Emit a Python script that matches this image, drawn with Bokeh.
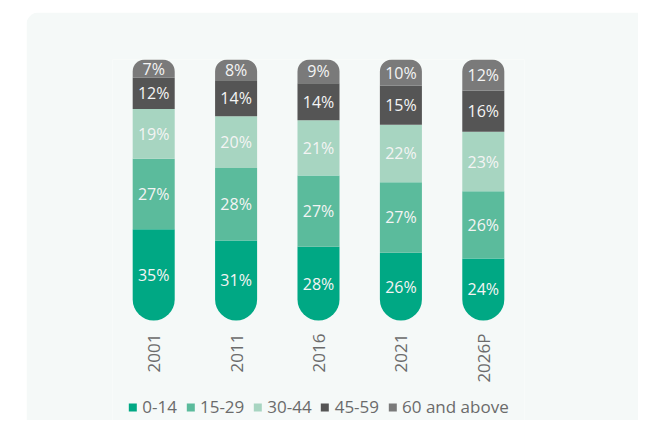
import math
import numpy as np
from bokeh.plotting import figure
from bokeh.models import ColumnDataSource, Range1d, Legend, LegendItem
from bokeh.core.properties import value
from bokeh.embed import file_html
from bokeh.resources import INLINE

years = ["2001", "2011", "2016", "2021", "2026P"]
groups = ["0-14", "15-29", "30-44", "45-59", "60 and above"]
age_0_14 = [35, 31, 28, 26, 24]
age_15_29 = [27, 28, 27, 27, 26]
age_30_44 = [19, 20, 21, 22, 23]
age_45_59 = [12, 14, 14, 15, 16]
age_60_up = [7, 8, 9, 10, 12]
colors = ["#00a884", "#5bbb9c", "#a7d5c1", "#555555", "#7a7a7a"]

series = [age_0_14, age_15_29, age_30_44, age_45_59, age_60_up]
arr = np.array(series, dtype=float)
totals = arr.sum(axis=0)
norm = arr / totals * 100.0
tops = np.cumsum(norm, axis=0)
bottoms = tops - norm

# layout: bars take 261 px for 100 %, extra frame room below holds labels + legend
BAR_PX = 261
FRAME_H = 361
y_start = -(FRAME_H - BAR_PX) / BAR_PX * 100.0

FONT = "Open Sans"
p = figure(x_range=years, y_range=Range1d(y_start, 100),
           frame_width=412, frame_height=FRAME_H,
           output_backend="svg", toolbar_location=None, y_axis_location=None,
           min_border_left=86, min_border_right=114, min_border_top=47,
           min_border_bottom=0)
p.margin = (12, 0, 0, 26)
p.styles = {"border-radius": "14px 0 0 0", "overflow": "hidden"}
p.background_fill_color = "#f5f9f8"
p.border_fill_color = "#f5f9f8"
p.outline_line_color = None
p.xgrid.grid_line_color = None
p.ygrid.grid_line_color = None

radii = [(0, 0, 21, 21), 0, 0, 0, (12, 12, 0, 0)]
items = []
for i, g in enumerate(groups):
    src = ColumnDataSource(dict(
        x=years, top=tops[i], bottom=bottoms[i], mid=(tops[i] + bottoms[i]) / 2,
        label=[f"{v}%" for v in series[i]]))
    r = p.vbar(x="x", top="top", bottom="bottom", width=0.51, source=src,
               fill_color=colors[i], line_color=None, border_radius=radii[i])
    p.text(x="x", y="mid", text="label", source=src, text_align="center",
           text_baseline="middle", text_color="#f4f4f4", text_font_size="16px",
           text_font=value(FONT))
    items.append(LegendItem(label=g, renderers=[r]))

ax = p.xaxis[0]
ax.fixed_location = 0
ax.axis_line_color = None
ax.major_tick_line_color = None
ax.minor_tick_line_color = None
ax.major_tick_out = 0
ax.major_tick_in = 0
ax.minor_tick_out = 0
ax.major_label_orientation = math.pi / 2
ax.major_label_text_font_size = "17px"
ax.major_label_text_font = FONT
ax.major_label_text_color = "#6b6b6b"
ax.major_label_standoff = 13

legend = Legend(items=items, orientation="horizontal", location="bottom_center",
                glyph_width=10, glyph_height=10, label_standoff=5, spacing=8,
                padding=0, margin=2, border_line_color=None,
                background_fill_alpha=0, label_text_font=FONT,
                label_text_font_size="17px", label_text_color="#6b6b6b")
p.add_layout(legend, "center")

open("out.html", "w").write(file_html(p, INLINE))
